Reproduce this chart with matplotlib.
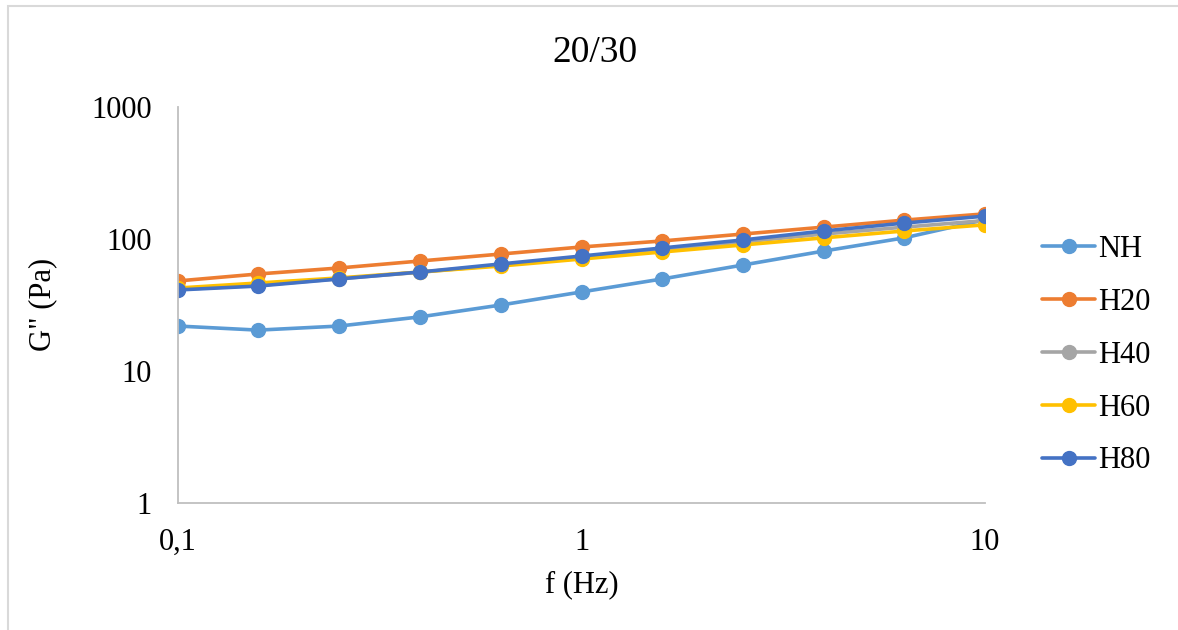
import matplotlib.pyplot as plt
from matplotlib.patches import Rectangle

# data
freq = [0.1, 0.158, 0.251, 0.398, 0.631, 1.0, 1.585, 2.512, 3.981, 6.31, 10.0]
nh = [21.9, 20.4, 21.9, 25.7, 31.6, 39.7, 49.8, 63.5, 81.0, 102, 140]
h20 = [48.1, 54.3, 60.3, 68.1, 76.9, 87.0, 96.6, 109, 123, 139, 155]
h40 = [41.5, 44.5, 50.0, 56.0, 63.5, 72.5, 83.0, 95.0, 109, 123, 138]
h60 = [42.5, 46.4, 50.7, 56.2, 62.4, 70.5, 79.7, 90.1, 102, 115, 128]
h80 = [41.1, 44.0, 49.8, 56.2, 64.7, 74.3, 85.5, 98.3, 115, 132, 149]

series = [('NH', nh, '#5B9BD5'), ('H20', h20, '#ED7D31'), ('H40', h40, '#A5A5A5'),
          ('H60', h60, '#FFC000'), ('H80', h80, '#4472C4')]

plt.rcParams['font.family'] = ['Liberation Serif', 'DejaVu Serif']
FS = 22

fig = plt.figure(figsize=(11.78, 6.3), dpi=100)
ax = fig.add_axes([0.1511, 0.2016, 0.6851, 0.6286])

for name, vals, col in series:
    ax.plot(freq, vals, color=col, lw=2.6, marker='o', markersize=10, label=name,
            solid_capstyle='round')

ax.set_xscale('log')
ax.set_yscale('log')
ax.set_xlim(0.1, 10)
ax.set_ylim(1, 1000)
ax.set_xticks([0.1, 1, 10])
ax.set_xticklabels(['0,1', '1', '10'])
ax.set_yticks([1, 10, 100, 1000])
ax.set_yticklabels(['1', '10', '100', '1000'])
ax.minorticks_off()
ax.tick_params(axis='both', length=0, labelsize=FS)
ax.tick_params(axis='y', pad=19)
ax.tick_params(axis='x', pad=18)

for s in ['top', 'right']:
    ax.spines[s].set_visible(False)
for s in ['left', 'bottom']:
    ax.spines[s].set_color('#BFBFBF')
    ax.spines[s].set_linewidth(1.3)

fig.text(0.505, 0.917, '20/30', fontsize=27, ha='center', va='center')
fig.text(0.4941, 0.072, 'f (Hz)', fontsize=FS, ha='center', va='center')
fig.text(0.036, 0.516, 'G" (Pa)', fontsize=FS, ha='center', va='center', rotation=90)

ax.legend(loc='center left', bbox_to_anchor=(0.8845, 0.436), bbox_transform=fig.transFigure,
          frameon=False, fontsize=FS, handlelength=1.75, handletextpad=0.1,
          labelspacing=0.78, borderpad=0, borderaxespad=0)

# faint chart-area border
fig.patches.append(Rectangle((8 / 1178, -0.05), 1.1, 1 - 6 / 630 + 0.05,
                             transform=fig.transFigure, fill=False,
                             edgecolor='#D9D9D9', lw=1.5))

fig.savefig('out.png', dpi=100)
